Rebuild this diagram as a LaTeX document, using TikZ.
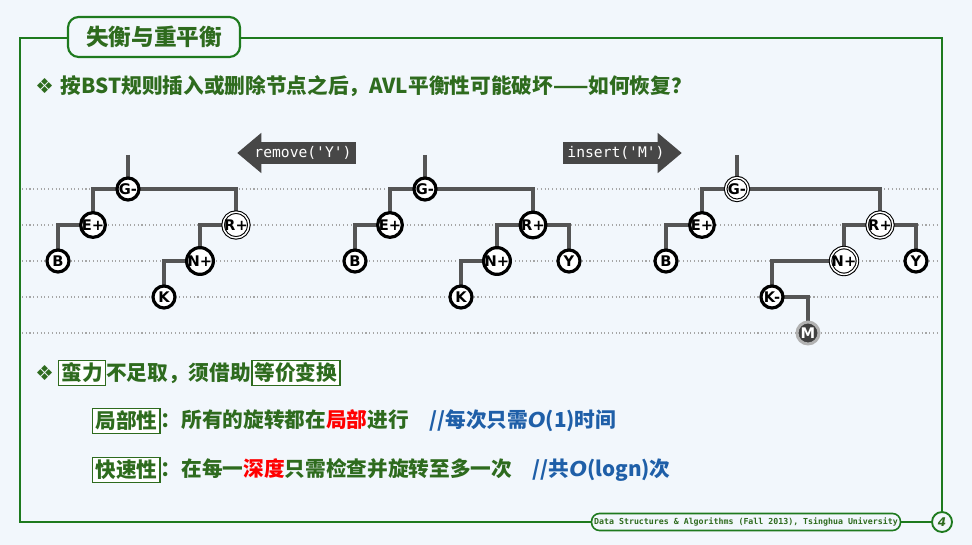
\documentclass[tikz,border=0pt]{standalone}
\usepackage{fontspec}
\setmainfont{Noto Sans CJK SC}
\newfontfamily\cjk{Noto Sans CJK SC}
\newfontfamily\lat{DejaVu Sans}
\setmonofont{DejaVu Sans Mono}
\usetikzlibrary{shapes.arrows,backgrounds}
\definecolor{dgreen}{HTML}{2E6B1E}
\definecolor{fgreen}{HTML}{1E7A1E}
\definecolor{bg}{HTML}{F2F7FC}
\definecolor{edgec}{HTML}{555555}
\definecolor{cblue}{HTML}{1F5FA8}
\tikzset{
 vx/.style={circle,draw=black,line width=2.4pt,fill=white,inner sep=0pt,minimum size=16.5pt,font=\lat\bfseries\fontsize{11}{10}\selectfont},
 vd/.style={vx,draw=black,line width=0.8pt,double=white,double distance=1.1pt,minimum size=17pt},
 vm/.style={circle,draw=black!30,line width=2.2pt,fill=black!75,text=white,inner sep=0pt,minimum size=16.5pt,font=\lat\bfseries\fontsize{11}{10}\selectfont},
 ed/.style={draw=edgec,line width=2.8pt},
 dl/.style={draw=black!35,line width=0.8pt,dotted},
 hl/.style={draw=dgreen,line width=1pt,inner sep=2pt,fill=white,font=\cjk\bfseries\fontsize{15.5}{18}\selectfont,text=dgreen,anchor=west},
 txt/.style={anchor=west,inner sep=0pt,font=\cjk\bfseries\fontsize{15.5}{18}\selectfont,text=dgreen},
 arr/.style={single arrow,fill=black!72,text=white,font=\ttfamily\fontsize{11}{12}\selectfont,minimum height=88pt,minimum width=21pt,single arrow head extend=7pt,single arrow tip angle=80,inner sep=3pt},
}
\begin{document}
\begin{tikzpicture}[x=0.75pt,y=-0.75pt]
\useasboundingbox (0,0) rectangle (972,545);
\node[draw=fgreen,line width=1.6pt,rounded corners=8pt,fill=bg,minimum width=172pt*0.75,minimum height=40pt*0.75,font=\cjk\bfseries\fontsize{17}{20}\selectfont,text=dgreen] (title) at (154,37) {失衡与重平衡};
\node[draw=fgreen,line width=1.2pt,rounded corners=6pt,fill=bg,font=\ttfamily\bfseries\fontsize{6.2}{7}\selectfont,text=dgreen,inner sep=2pt,minimum width=293pt*0.75,minimum height=17pt*0.75] (foot) at (746,522) {Data Structures \& Algorithms (Fall 2013), Tsinghua University};
\node[circle,draw=fgreen,line width=1.4pt,fill=bg,minimum size=15pt,inner sep=0pt,font=\lat\bfseries\itshape\small,text=dgreen] (pg) at (942,522) {4};
\node[txt] (h1) at (35,86) {\lat ❖\ \cjk 按BST规则插入或删除节点之后，AVL平衡性可能破坏——如何恢复？};
\node[arr,shape border rotate=180] (rm) at (303,153) {remove('Y')};
\node[arr] (ins) at (616,153) {insert('M')};
\coordinate (t1) at (128,155);
\node[vx] (g1) at (128,189) {G-};
\node[vx] (e1) at (93,225) {E+};
\node[vd] (r1) at (236,225) {R+};
\node[vx] (b1) at (58,261) {B};
\node[vx] (n1) at (200,261) {N+};
\node[vx] (k1) at (164,297) {K};
\coordinate (t2) at (425,155);
\node[vx] (g2) at (425,189) {G-};
\node[vx] (e2) at (390,225) {E+};
\node[vx] (r2) at (533,225) {R+};
\node[vx] (b2) at (355,261) {B};
\node[vx] (n2) at (497,261) {N+};
\node[vx] (y2) at (569,261) {Y};
\node[vx] (k2) at (461,297) {K};
\coordinate (t3) at (737,155);
\node[vd] (g3) at (737,189) {G-};
\node[vx] (e3) at (702,225) {E+};
\node[vd] (r3) at (880,225) {R+};
\node[vx] (b3) at (666,261) {B};
\node[vd] (n3) at (844,261) {N+};
\node[vx] (y3) at (916,261) {Y};
\node[vx] (k3) at (772,297) {K-};
\node[vm] (m3) at (808,333) {M};
\begin{pgfonlayer}{background}
\fill[bg] (0,0) rectangle (972,545);
\draw[fgreen,line width=1.6pt] (70,38) -- (20,38) -- (20,522) -- (600,522);
\draw[fgreen,line width=1.6pt] (240,38) -- (942,38) -- (942,512);
\draw[fgreen,line width=1.6pt] (893,522) -- (932,522);
\foreach \y in {189,225,261,297,333} \draw[dl] (22,\y) -- (940,\y);
\path[ed] (t1) -- (g1.center);
\path[ed] (g1.center) -| (e1.center); \path[ed] (g1.center) -| (r1.center);
\path[ed] (e1.center) -| (b1.center); \path[ed] (r1.center) -| (n1.center);
\path[ed] (n1.center) -| (k1.center);
\path[ed] (t2) -- (g2.center);
\path[ed] (g2.center) -| (e2.center); \path[ed] (g2.center) -| (r2.center);
\path[ed] (e2.center) -| (b2.center); \path[ed] (r2.center) -| (n2.center);
\path[ed] (r2.center) -| (y2.center); \path[ed] (n2.center) -| (k2.center);
\path[ed] (t3) -- (g3.center);
\path[ed] (g3.center) -| (e3.center); \path[ed] (g3.center) -| (r3.center);
\path[ed] (e3.center) -| (b3.center); \path[ed] (r3.center) -| (n3.center);
\path[ed] (r3.center) -| (y3.center); \path[ed] (n3.center) -| (k3.center);
\path[ed] (k3.center) -| (m3.center);
\end{pgfonlayer}
\node[txt] (b2l) at (35,373) {\lat ❖};
\node[hl] (bl) at (58,373) {蛮力};
\node[txt] (b2m) at (bl.east) {不足取，须借助};
\node[hl] (dj) at (b2m.east) {等价变换};
\node[hl] (jb) at (92,421) {局部性};
\node[txt] (l1) at (jb.east) {：所有的旋转都在\textcolor{red}{局部}进行\quad\textcolor{cblue}{//每次只需\lat\itshape O\cjk\upshape (1)时间}};
\node[hl] (ks) at (92,470) {快速性};
\node[txt] (l2) at (ks.east) {：在每一\textcolor{red}{深度}只需检查并旋转至多一次\quad\textcolor{cblue}{//共\lat\itshape O\cjk\upshape (logn)次}};
\end{tikzpicture}
\end{document}
